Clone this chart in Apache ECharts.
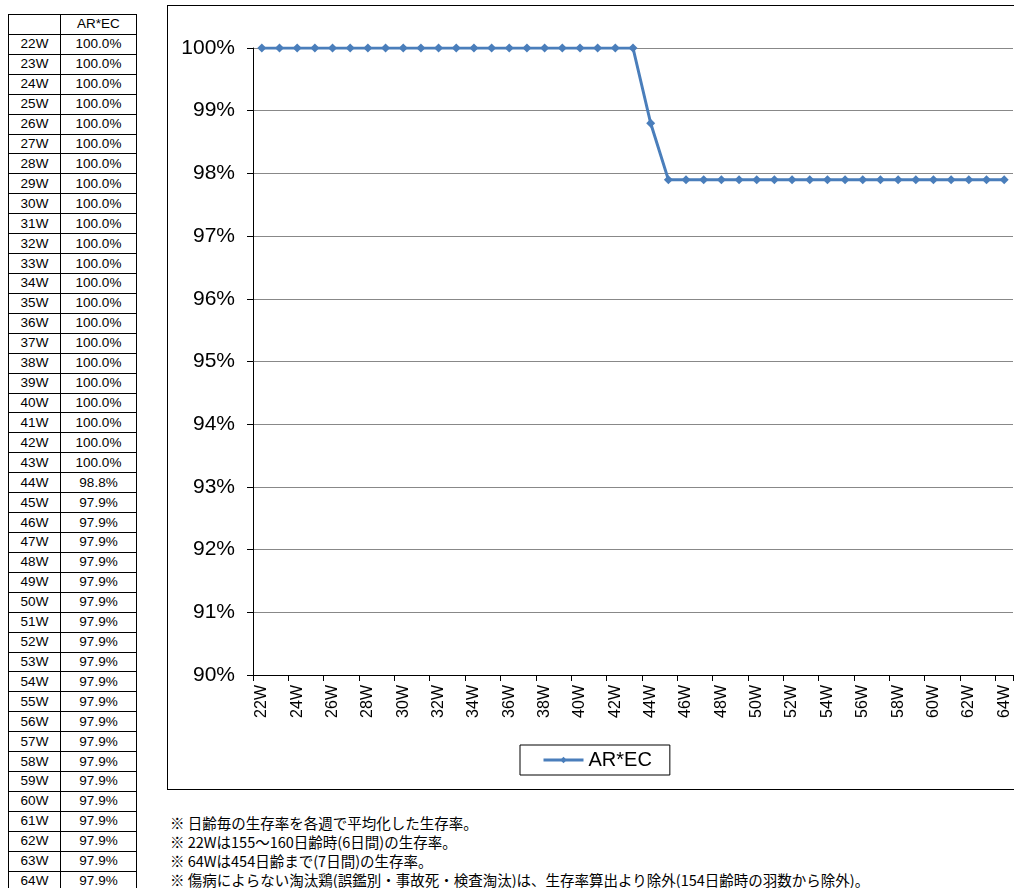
<!DOCTYPE html>
<html><head><meta charset="utf-8">
<script src="https://cdn.jsdelivr.net/npm/echarts@6/dist/echarts.min.js"></script>
<style>
body{margin:0;background:#fff;font-family:"Liberation Sans","Noto Sans CJK JP",sans-serif;}
#tbl{position:absolute;left:8px;top:14px;border-collapse:collapse;font-size:13.5px;color:#000;}
#tbl td{border:1px solid #000;height:18.93px;padding:0;text-align:center;line-height:18px;}
#box{position:absolute;left:167px;top:5px;width:860px;height:785px;border:1px solid #000;box-sizing:border-box;}
#chart{position:absolute;left:0;top:0;width:1014px;height:800px;}
#notes{position:absolute;left:170px;top:813px;font-size:14.5px;line-height:19px;color:#000;font-family:"Noto Sans CJK JP",sans-serif;white-space:nowrap;}
</style></head><body>
<table id="tbl"></table>
<div id="box"></div>
<div id="chart"></div>
<div id="notes"></div>
<script>
const weeks = [];
for (let w = 22; w <= 64; w++) weeks.push(w + "W");
const survival = [100,100,100,100,100,100,100,100,100,100,100,100,100,100,100,100,100,100,100,100,100,100,
  98.8,97.9,97.9,97.9,97.9,97.9,97.9,97.9,97.9,97.9,97.9,97.9,97.9,97.9,97.9,97.9,97.9,97.9,97.9,97.9,97.9];
const seriesName = "AR*EC";
const notes = [
  "※ 日齢毎の生存率を各週で平均化した生存率。",
  "※ 22Wは155～160日齢時(6日間)の生存率。",
  "※ 64Wは454日齢まで(7日間)の生存率。",
  "※ 傷病によらない淘汰鶏(誤鑑別・事故死・検査淘汰)は、生存率算出より除外(154日齢時の羽数から除外)。"
];

let html = '<tr><td style="width:51px"></td><td style="width:75px">' + seriesName + '</td></tr>';
weeks.forEach((w, i) => { html += '<tr><td>' + w + '</td><td>' + survival[i].toFixed(1) + '%</td></tr>'; });
document.getElementById('tbl').innerHTML = html;
document.getElementById('notes').innerHTML = notes.join('<br>');

const chart = echarts.init(document.getElementById('chart'));
chart.setOption({
  animation: false,
  grid: { left: 253, right: 1, top: 48, bottom: 125 },
  legend: {
    data: [{ name: seriesName, itemStyle: { color: '#4a7ebb' }, lineStyle: { width: 3 } }],
    left: 520, top: 745, itemWidth: 40, itemHeight: 8,
    borderColor: '#000', borderWidth: 1, borderRadius: 0, padding: [5, 18, 5, 22],
    textStyle: { fontSize: 20, color: '#000', fontFamily: 'Liberation Sans' }
  },
  xAxis: {
    type: 'category', data: weeks, boundaryGap: true,
    axisLine: { lineStyle: { color: '#000' } },
    axisTick: { show: true, length: 6, lineStyle: { color: '#000' } },
    axisLabel: { interval: 1, rotate: 90, fontSize: 16, color: '#000', margin: 10, fontFamily: 'Liberation Sans' }
  },
  yAxis: {
    type: 'value', min: 90, max: 100, interval: 1,
    axisLine: { show: true, lineStyle: { color: '#000' } },
    axisTick: { show: true, length: 6, inside: false, lineStyle: { color: '#000' } },
    splitLine: { lineStyle: { color: '#888' } },
    axisLabel: { formatter: '{value}%', fontSize: 21, color: '#000', margin: 18, fontFamily: 'Liberation Sans' }
  },
  series: [{
    name: seriesName, type: 'line', data: survival,
    symbol: 'diamond', symbolSize: 9, showAllSymbol: true,
    itemStyle: { color: '#4a7ebb' }, lineStyle: { color: '#4a7ebb', width: 3 }
  }]
});
</script>
</body></html>
